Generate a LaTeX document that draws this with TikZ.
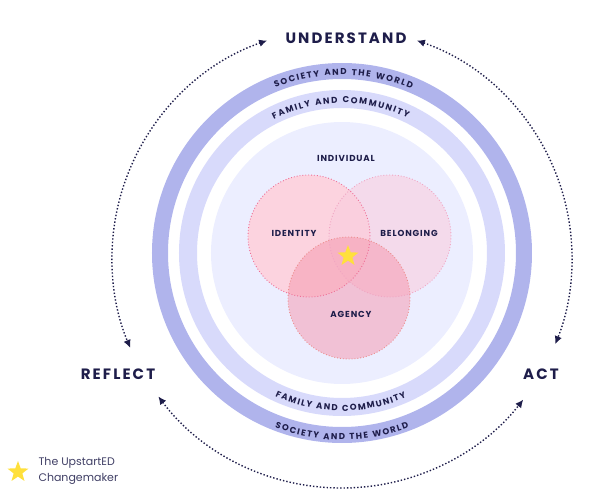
\documentclass[tikz,border=0pt]{standalone}
\usepackage{fontspec}
\setmainfont{Poppins}
\usetikzlibrary{arrows.meta,decorations.text,shapes.geometric}

\definecolor{navy}{RGB}{30,29,74}
\definecolor{ringdark}{RGB}{176,180,236}
\definecolor{ringlight}{RGB}{216,218,251}
\definecolor{disc}{RGB}{236,238,255}
\definecolor{pinka}{RGB}{255,207,218}
\definecolor{pinkb}{RGB}{250,205,222}
\definecolor{pinkc}{RGB}{246,150,172}
\definecolor{dotsa}{RGB}{238,110,150}
\definecolor{dotsb}{RGB}{240,165,195}
\definecolor{dotsc}{RGB}{236,140,140}
\definecolor{staryellow}{RGB}{255,224,60}

\tikzset{
  biglabel/.style={text=navy,font=\fontsize{15}{18}\selectfont\bfseries\addfontfeatures{LetterSpace=14}},
  smalllabel/.style={text=navy,font=\fontsize{8.7}{10}\selectfont\bfseries\addfontfeatures{LetterSpace=10}},
  cyclearrow/.style={navy,line width=1.4pt,dotted,{Latex[length=8pt,width=7.5pt]}-{Latex[length=8pt,width=7.5pt]}},
  ringtext/.style={decorate,decoration={text along path,text align=fit to path,text color=navy,
    text={|\fontsize{8.6}{8.6}\selectfont\bfseries|#1}}},
  venn/.style={line width=0.9pt,dotted}
}

\begin{document}
\begin{tikzpicture}[x=1pt,y=1pt]

\useasboundingbox (-342,-240) rectangle (256,253);

\draw[ringdark,line width=16pt] (0,0) circle[radius=182pt];
\draw[ringlight,line width=18pt] (0,0) circle[radius=154pt];
\fill[disc] (0,0) circle[radius=131pt];

\path[ringtext={SOCIETY AND THE WORLD}] (112:178pt) arc[start angle=112,end angle=67,radius=178pt];
\path[ringtext={FAMILY AND COMMUNITY}] (117:150pt) arc[start angle=117,end angle=64,radius=150pt];
\path[ringtext={FAMILY AND COMMUNITY}] (245:158pt) arc[start angle=245,end angle=294,radius=158pt];
\path[ringtext={SOCIETY AND THE WORLD}] (249:187pt) arc[start angle=249,end angle=291,radius=187pt];

\fill[pinka,fill opacity=0.85] (-33,17) circle[radius=61pt];
\fill[pinkb,fill opacity=0.6] (48,17) circle[radius=61pt];
\fill[pinkc,fill opacity=0.5] (7,-45) circle[radius=61pt];
\draw[venn,dotsa] (-33,17) circle[radius=61pt];
\draw[venn,dotsb] (48,17) circle[radius=61pt];
\draw[venn,dotsc] (7,-45) circle[radius=61pt];

\node[biglabel] (v1) at (4,215) {UNDERSTAND};
\node[biglabel] (v2) at (-224,-121) {REFLECT};
\node[biglabel] (v3) at (199,-121) {ACT};
\node[smalllabel] (v4) at (4,95) {INDIVIDUAL};
\node[smalllabel] (v5) at (-48,20) {IDENTITY};
\node[smalllabel] (v6) at (67,20) {BELONGING};
\node[smalllabel] (v7) at (9,-61) {AGENCY};
\node[star,star points=5,star point ratio=2.4,fill=staryellow,inner sep=0pt,minimum size=22pt] (v8) at (6,-3) {};
\node[star,star points=5,star point ratio=2.4,fill=staryellow,inner sep=0pt,minimum size=22pt] (v9) at (-324,-219) {};
\node[anchor=west,align=left,text=navy!85,font=\fontsize{11}{16}\selectfont] (v10) at (-307,-218) {The UpstartED\\Changemaker};

\coordinate (c1) at ([shift={(0,-5)}]109:230pt);
\coordinate (c2) at ([shift={(0,-5)}]71:230pt);
\coordinate (c3) at ([shift={(0,-5)}]217:230pt);
\draw[cyclearrow] (c1) arc[start angle=109,end angle=203,radius=230pt];
\draw[cyclearrow] (c2) arc[start angle=71,end angle=-22,radius=230pt];
\draw[cyclearrow] (c3) arc[start angle=217,end angle=322,radius=230pt];

\end{tikzpicture}
\end{document}
